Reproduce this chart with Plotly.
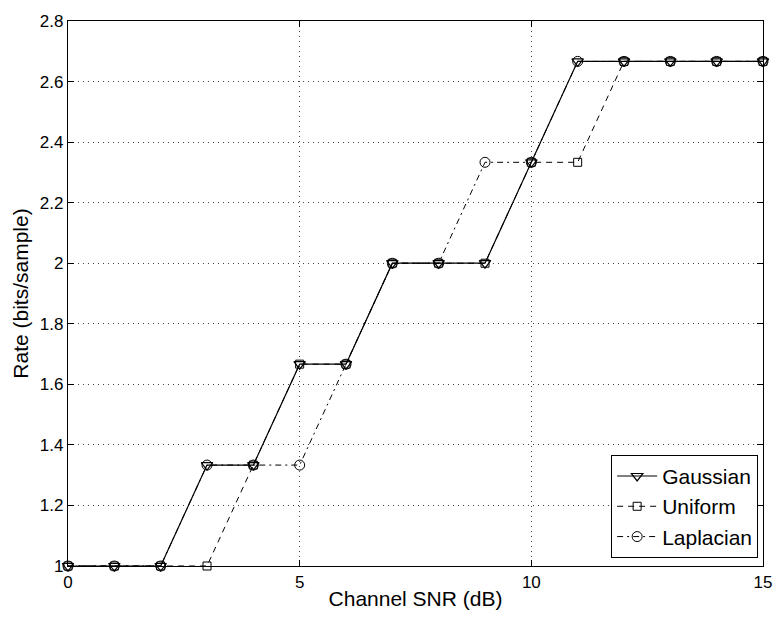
import plotly.graph_objects as go

snr_db = list(range(16))
gaussian = [1, 1, 1, 4/3, 4/3, 5/3, 5/3, 2, 2, 2, 7/3, 8/3, 8/3, 8/3, 8/3, 8/3]
uniform = [1, 1, 1, 1, 4/3, 5/3, 5/3, 2, 2, 2, 7/3, 7/3, 8/3, 8/3, 8/3, 8/3]
laplacian = [1, 1, 1, 4/3, 4/3, 4/3, 5/3, 2, 2, 7/3, 7/3, 8/3, 8/3, 8/3, 8/3, 8/3]

x_ticks = [0, 5, 10, 15]
y_ticks = [1, 1.2, 1.4, 1.6, 1.8, 2, 2.2, 2.4, 2.6, 2.8]
y_labels = ["1", "1.2", "1.4", "1.6", "1.8", "2", "2.2", "2.4", "2.6", "2.8"]

FONT = "Liberation Sans, Arial, Helvetica"

fig = go.Figure()
fig.add_trace(go.Scatter(
    x=snr_db, y=gaussian, name="Gaussian", mode="lines+markers",
    line=dict(color="black", width=1.2, dash="solid"),
    marker=dict(symbol="triangle-down-open", size=10, color="black", line=dict(width=1.2)),
    cliponaxis=False))
fig.add_trace(go.Scatter(
    x=snr_db, y=uniform, name="Uniform", mode="lines+markers",
    line=dict(color="black", width=1, dash="6px,5px"),
    marker=dict(symbol="square-open", size=8, color="black", line=dict(width=1)),
    cliponaxis=False))
fig.add_trace(go.Scatter(
    x=snr_db, y=laplacian, name="Laplacian", mode="lines+markers",
    line=dict(color="black", width=1, dash="6px,4px,2px,4px"),
    marker=dict(symbol="circle-open", size=10, color="black", line=dict(width=1)),
    cliponaxis=False))

axis_common = dict(
    showline=True, linecolor="black", linewidth=1.2, mirror="ticks",
    ticks="inside", ticklen=6, tickcolor="black",
    showgrid=True, gridcolor="#444", gridwidth=1, griddash="1px,4px",
    zeroline=False, tickfont=dict(family=FONT, size=17, color="black"),
)

fig.update_xaxes(range=[0, 15], tickvals=x_ticks, ticktext=[str(t) for t in x_ticks],
                 title=dict(text="Channel SNR (dB)", font=dict(family=FONT, size=21, color="black"), standoff=0),
                 **axis_common)
fig.update_yaxes(range=[1, 2.8], tickvals=y_ticks, ticktext=y_labels,
                 title=dict(text="Rate (bits/sample)", font=dict(family=FONT, size=21, color="black"), standoff=5),
                 **axis_common)

fig.update_layout(
    width=784, height=619,
    margin=dict(l=68, r=16, t=14, b=53),
    paper_bgcolor="white", plot_bgcolor="white",
    showlegend=True,
    legend=dict(x=0.993, y=0.015, xanchor="right", yanchor="bottom",
                bgcolor="white", bordercolor="black", borderwidth=1,
                font=dict(family=FONT, size=21, color="black"),
                itemwidth=40, tracegroupgap=0),
)

fig.write_html("out.html")
